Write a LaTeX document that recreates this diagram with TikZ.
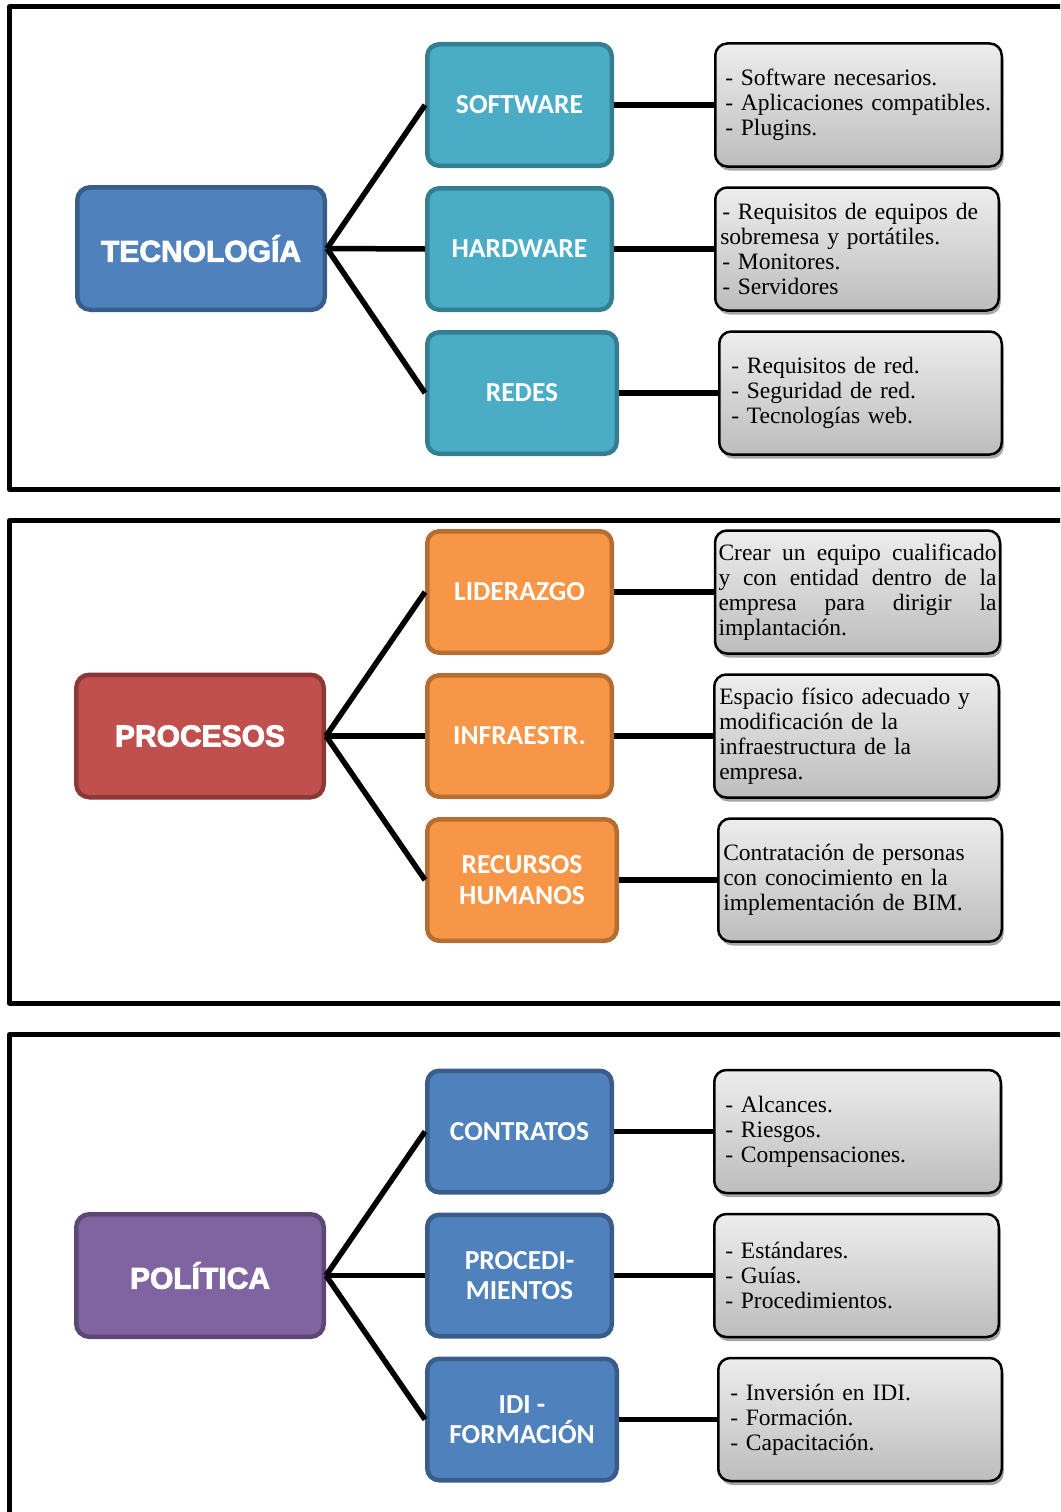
\documentclass[tikz,border=0pt]{standalone}
\usepackage{fontspec}
\setmainfont{Liberation Serif}
\newfontfamily\calfont{Carlito}
\newfontfamily\heavyfont[FakeBold=3]{Liberation Sans Bold}
\usetikzlibrary{shadows}
\definecolor{mainblue}{HTML}{4F81BD}
\definecolor{mainblueB}{HTML}{385D8A}
\definecolor{teal}{HTML}{4BACC6}
\definecolor{tealB}{HTML}{357D91}
\definecolor{red}{HTML}{C0504D}
\definecolor{redB}{HTML}{8C3836}
\definecolor{orng}{HTML}{F79646}
\definecolor{orngB}{HTML}{B66D31}
\definecolor{purp}{HTML}{8064A2}
\definecolor{purpB}{HTML}{5C4776}
\newcommand\dl[1][5pt]{\hspace*{#1}- }
\tikzset{
  mainbox/.style={rounded corners=13pt, line width=4.5pt, minimum width=247.5pt, minimum height=122.5pt,
    text=white, align=center, font=\heavyfont\fontsize{30}{34}\selectfont},
  subbox/.style={rounded corners=12pt, line width=4.5pt, minimum width=184.5pt, minimum height=121.5pt,
    text=white, align=center, font=\calfont\bfseries\fontsize{27.5}{30.5}\selectfont},
  detbox/.style={rounded corners=12pt, line width=2.5pt, draw=black, top color=gray!14, bottom color=gray!52,
    minimum height=123pt, inner xsep=5pt, align=left, font=\fontsize{23.5}{25}\selectfont,
    drop shadow={shadow xshift=2pt, shadow yshift=-4pt, opacity=0.35, fill=black}},
  link/.style={line width=5.5pt},
  panel/.style={line width=5pt, line join=round}
}
\begin{document}
\begin{tikzpicture}[x=1pt, y=-1pt]
\useasboundingbox (0,0) rectangle (1060,1512);
\clip (0,0) rectangle (1060,1512);
% panels
\draw[panel] (9.5,7) rectangle (1080,489.5);
\draw[panel] (9.5,520.5) rectangle (1080,1003);
\draw[panel] (9.5,1034.5) rectangle (1080,1530);

% ---------- Panel 1: TECNOLOGIA ----------
\node[mainbox, fill=mainblue, draw=mainblueB] (tec) at (201,248.5) {TECNOLOGÍA};
\node[subbox, fill=teal, draw=tealB] (sw) at (519.5,105) {SOFTWARE};
\node[subbox, fill=teal, draw=tealB] (hw) at (519.5,249) {HARDWARE};
\node[subbox, fill=teal, draw=tealB, minimum width=189.5pt] (rd) at (522,393) {REDES};
\node[detbox, text width=276.5pt] (swd) at (858.5,105)
  {\dl Software necesarios.\\\dl Aplicaciones compatibles.\\\dl Plugins.};
\node[detbox, text width=273.5pt] (hwd) at (857,249)
  {\dl[2pt]Requisitos de equipos de\\sobremesa y portátiles.\\\dl[2pt]Monitores.\\\dl[2pt]Servidores};
\node[detbox, text width=272.5pt] (rdd) at (860.5,393)
  {\dl[7pt]Requisitos de red.\\\dl[7pt]Seguridad de red.\\\dl[7pt]Tecnologías web.};
\draw[link] (tec.east) -- (sw.west);
\draw[link] (tec.east) -- (hw.west);
\draw[link] (tec.east) -- (rd.west);
\draw[link] (sw.east) -- (swd.west);
\draw[link] (hw.east) -- (hwd.west);
\draw[link] (rd.east) -- (rdd.west);

% ---------- Panel 2: PROCESOS ----------
\node[mainbox, fill=red, draw=redB] (pro) at (200,736) {PROCESOS};
\node[subbox, fill=orng, draw=orngB] (lid) at (519.5,592) {LIDERAZGO};
\node[subbox, fill=orng, draw=orngB] (inf) at (519.5,736) {INFRAESTR.};
\node[subbox, fill=orng, draw=orngB, minimum width=189.5pt] (rh) at (522,880) {RECURSOS\\HUMANOS};
\node[detbox, text width=278pt, inner xsep=3.5pt, align=justify] (lidd) at (857.5,592)
  {Crear un equipo cualificado\linebreak y con entidad dentro de la\linebreak empresa para dirigir la\linebreak implantación.};
\node[detbox, text width=274.5pt] (infd) at (856.5,736)
  {Espacio físico adecuado y\\modificación de la\\infraestructura de la\\empresa.};
\node[detbox, text width=273.5pt] (rhd) at (860,880)
  {Contratación de personas\\con conocimiento en la\\implementación de BIM.};
\draw[link] (pro.east) -- (lid.west);
\draw[link] (pro.east) -- (inf.west);
\draw[link] (pro.east) -- (rh.west);
\draw[link] (lid.east) -- (lidd.west);
\draw[link] (inf.east) -- (infd.west);
\draw[link] (rh.east) -- (rhd.west);

% ---------- Panel 3: POLITICA ----------
\node[mainbox, fill=purp, draw=purpB] (pol) at (200,1275.5) {POLÍTICA};
\node[subbox, fill=mainblue, draw=mainblueB] (con) at (519.5,1131.5) {CONTRATOS};
\node[subbox, fill=mainblue, draw=mainblueB] (proc) at (519.5,1275.5) {PROCEDI-\\MIENTOS};
\node[subbox, fill=mainblue, draw=mainblueB, minimum width=189.5pt] (idi) at (522,1419.5) {IDI -\\FORMACIÓN};
\node[detbox, text width=276.5pt] (cond) at (857.5,1131.5)
  {\dl[6pt]Alcances.\\\dl[6pt]Riesgos.\\\dl[6pt]Compensaciones.};
\node[detbox, text width=274.5pt] (procd) at (856.5,1275.5)
  {\dl[6pt]Estándares.\\\dl[6pt]Guías.\\\dl[6pt]Procedimientos.};
\node[detbox, text width=273.5pt] (idid) at (860,1419.5)
  {\dl[7pt]Inversión en IDI.\\\dl[7pt]Formación.\\\dl[7pt]Capacitación.};
\draw[link] (pol.east) -- (con.west);
\draw[link] (pol.east) -- (proc.west);
\draw[link] (pol.east) -- (idi.west);
\draw[link] (con.east) -- (cond.west);
\draw[link] (proc.east) -- (procd.west);
\draw[link] (idi.east) -- (idid.west);
\end{tikzpicture}
\end{document}
